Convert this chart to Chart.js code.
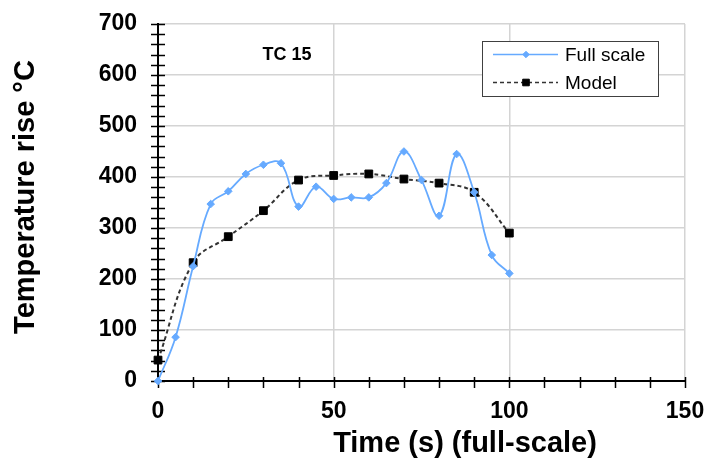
<!DOCTYPE html>
<html>
<head>
<meta charset="utf-8">
<script src="https://cdn.jsdelivr.net/npm/chart.js@4.4.1/dist/chart.umd.min.js"></script>
<style>
  html, body { margin: 0; padding: 0; background: #fff; }
  #wrap { width: 708px; height: 459px; position: relative; }
</style>
</head>
<body>
<div id="wrap"><canvas id="tc_chart"></canvas></div>
<script>
// full-scale test, thermocouple TC 15
var fullTime = [0, 5, 10, 15, 20, 25, 30, 35, 40, 45, 50, 55, 60, 65, 70, 75, 80, 85, 90, 95, 100];
var fullTemp = [0, 86, 225, 347, 372, 406, 424, 427, 342, 381, 357, 360, 360, 388, 450, 394, 324, 445, 370, 247, 211];

// scale model, time converted to full-scale
var modelTime = [0, 10, 20, 30, 40, 50, 60, 70, 80, 90, 100];
var modelTemp = [41, 232, 283, 334, 394, 403, 406, 396, 388, 370, 290];

var seriesNames = ["Full scale", "Model"];
var yTicks = [0, 100, 200, 300, 400, 500, 600, 700];
var xTicks = [0, 50, 100, 150];

var FONT = "'Liberation Sans', Arial, sans-serif";
var BLUE = '#66aaff';

function toPoints(xs, ys) {
    return xs.map(function (x, i) { return { x: x, y: ys[i] }; });
}

// fixed box sizes, no extra room for label overhang
function fixBox(w, h) {
    return function (s) {
        if (w) s.width = w;
        if (h) s.height = h;
        s.paddingTop = s.paddingBottom = s.paddingLeft = s.paddingRight = 0;
    };
}

// crossing tick marks on both axes (minor every 20 on y, every 10 on x)
var axisTicks = {
    id: 'axisTicks',
    beforeDatasetsDraw: function (chart) {
        var ctx = chart.ctx, xs = chart.scales.x, ys = chart.scales.y;
        var ax = chart.chartArea.left, ay = chart.chartArea.bottom;
        ctx.save();
        ctx.strokeStyle = '#000';
        ctx.lineWidth = 1.5;
        ctx.beginPath();
        for (var v = ys.min; v <= ys.max; v += 20) {
            var py = Math.round(ys.getPixelForValue(v)) + 0.5;
            ctx.moveTo(ax - 7, py);
            ctx.lineTo(ax + 7, py);
        }
        for (var t = xs.min; t <= xs.max; t += 10) {
            var px = Math.round(xs.getPixelForValue(t)) + 0.5;
            ctx.moveTo(px, ay - 4);
            ctx.lineTo(px, ay + 7);
        }
        ctx.stroke();
        ctx.restore();
    }
};

// axis titles, TC label and the boxed legend
var decorations = {
    id: 'decorations',
    afterDraw: function (chart) {
        var ctx = chart.ctx;
        var ca = chart.chartArea;
        ctx.save();
        ctx.fillStyle = '#000';
        ctx.textAlign = 'center';
        ctx.textBaseline = 'middle';

        ctx.font = 'bold 29px ' + FONT;
        ctx.fillText('Time (s) (full-scale)', 465, 444);
        ctx.save();
        ctx.translate(26, 197);
        ctx.rotate(-Math.PI / 2);
        ctx.fillText('Temperature rise °C', 0, 0);
        ctx.restore();

        ctx.font = 'bold 18px ' + FONT;
        ctx.fillText('TC 15', ca.left + 129, ca.top + 31);

        var bx = 482.5, by = 41.5, bw = 176, bh = 55;
        ctx.fillStyle = '#fff';
        ctx.fillRect(bx, by, bw, bh);
        ctx.strokeStyle = '#404040';
        ctx.lineWidth = 1;
        ctx.strokeRect(bx, by, bw, bh);

        ctx.font = '19px ' + FONT;
        ctx.textAlign = 'left';
        chart.data.datasets.forEach(function (ds, i) {
            var ly = 54.5 + i * 28;
            ctx.save();
            ctx.strokeStyle = ds.borderColor;
            ctx.lineWidth = Math.min(ds.borderWidth, 1.5);
            ctx.setLineDash(ds.borderDash || []);
            ctx.beginPath();
            ctx.moveTo(493, ly);
            ctx.lineTo(558, ly);
            ctx.stroke();
            ctx.restore();

            ctx.fillStyle = ds.pointBackgroundColor;
            ctx.strokeStyle = ds.pointBorderColor;
            ctx.lineWidth = 1;
            Chart.helpers.drawPoint(ctx, {
                pointStyle: ds.pointStyle,
                radius: ds.pointRadius * 0.85,
                borderWidth: 1
            }, 526, ly);

            ctx.fillStyle = '#000';
            ctx.fillText(ds.label, 565, ly + 1);
        });
        ctx.restore();
    }
};

new Chart(document.getElementById('tc_chart').getContext('2d'), {
    type: 'line',
    data: {
        datasets: [{
            label: seriesNames[0],
            data: toPoints(fullTime, fullTemp),
            borderColor: BLUE,
            backgroundColor: BLUE,
            pointBackgroundColor: BLUE,
            pointBorderColor: BLUE,
            borderWidth: 1.8,
            pointStyle: 'rectRot',
            pointRadius: 3.8,
            pointBorderWidth: 1,
            tension: 0.4,
            clip: false
        }, {
            label: seriesNames[1],
            data: toPoints(modelTime, modelTemp),
            borderColor: '#333',
            backgroundColor: '#000',
            pointBackgroundColor: '#000',
            pointBorderColor: '#000',
            borderWidth: 2,
            borderDash: [4, 3],
            pointStyle: 'rect',
            pointRadius: 5.5,
            pointBorderWidth: 1,
            tension: 0.4,
            clip: false
        }]
    },
    options: {
        responsive: true,
        maintainAspectRatio: false,
        animation: false,
        layout: { padding: { top: 24, right: 23, bottom: 0, left: 0 } },
        plugins: {
            legend: { display: false },
            tooltip: { enabled: false }
        },
        scales: {
            x: {
                type: 'linear',
                min: xTicks[0],
                max: xTicks[xTicks.length - 1],
                afterBuildTicks: function (s) { s.ticks = xTicks.map(function (v) { return { value: v }; }); },
                afterFit: fixBox(0, 78),
                grid: { color: '#d4d4d4', lineWidth: 1.5, drawTicks: false },
                border: { color: '#000', width: 2 },
                ticks: {
                    padding: 17,
                    color: '#000',
                    font: { family: FONT, size: 23, weight: 'bold' }
                }
            },
            y: {
                min: yTicks[0],
                max: yTicks[yTicks.length - 1],
                afterBuildTicks: function (s) { s.ticks = yTicks.map(function (v) { return { value: v }; }); },
                afterFit: fixBox(158, 0),
                grid: { color: '#d4d4d4', lineWidth: 1.5, drawTicks: false },
                border: { color: '#000', width: 2 },
                ticks: {
                    padding: 21,
                    color: '#000',
                    font: { family: FONT, size: 23, weight: 'bold' }
                }
            }
        }
    },
    plugins: [axisTicks, decorations]
});
</script>
</body>
</html>
